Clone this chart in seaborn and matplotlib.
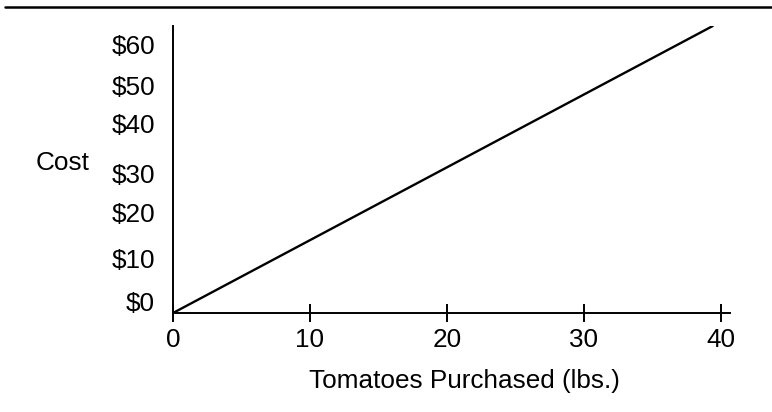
import numpy as np
import pandas as pd
import matplotlib
matplotlib.use("Agg")
import matplotlib.pyplot as plt
from matplotlib.lines import Line2D
import seaborn as sns

# data
LBS = [0, 39.4]
COST = [0, 64.2]
X_TICKS = [0, 10, 20, 30, 40]
# the original places the cost labels unevenly; keep their spots
Y_TICK_POS = [2.5, 12.3, 22.4, 31.3, 42.5, 51.0, 60.0]
Y_TICK_LABELS = ["$0", "$10", "$20", "$30", "$40", "$50", "$60"]

sns.set_style("white")
plt.rcParams["font.family"] = ["Liberation Sans", "DejaVu Sans"]

df = pd.DataFrame({"lbs": LBS, "cost": COST})

fig = plt.figure(figsize=(7.72, 4.12), dpi=100)
ax = fig.add_axes([173 / 772, 1 - 313 / 412, 557 / 772, 287 / 412])

sns.lineplot(data=df, x="lbs", y="cost", color="black", linewidth=1.7, ax=ax)

ax.set_xlim(0, 40.66)
ax.set_ylim(0, 64.2)

for side in ["top", "right"]:
    ax.spines[side].set_visible(False)
for side in ["left", "bottom"]:
    ax.spines[side].set_color("black")
    ax.spines[side].set_linewidth(1.4)

FS = 18.8
ax.set_xticks(X_TICKS)
ax.set_xticklabels([str(t) for t in X_TICKS])
ax.tick_params(axis="x", bottom=True, direction="inout", length=13, width=1.4,
               pad=4, labelsize=FS, colors="black")
ax.set_yticks(Y_TICK_POS)
ax.set_yticklabels(Y_TICK_LABELS)
ax.tick_params(axis="y", left=True, length=0, pad=13, labelsize=FS, colors="black")

ax.set_xlabel("Tomatoes Purchased (lbs.)", fontsize=FS, color="black")
ax.xaxis.set_label_coords(0.524, -0.236)
ax.xaxis.label.set_va("center")
ax.set_ylabel("Cost", fontsize=FS, rotation=0, color="black")
ax.yaxis.set_label_coords(-0.199, 0.523)
ax.yaxis.label.set_va("center")
ax.yaxis.label.set_ha("center")

# horizontal rule across the top
fig.add_artist(Line2D([5 / 772, 1], [1 - 6.7 / 412, 1 - 6.7 / 412],
                      color="black", linewidth=1.8, transform=fig.transFigure))

fig.savefig("out.png", dpi=100)
